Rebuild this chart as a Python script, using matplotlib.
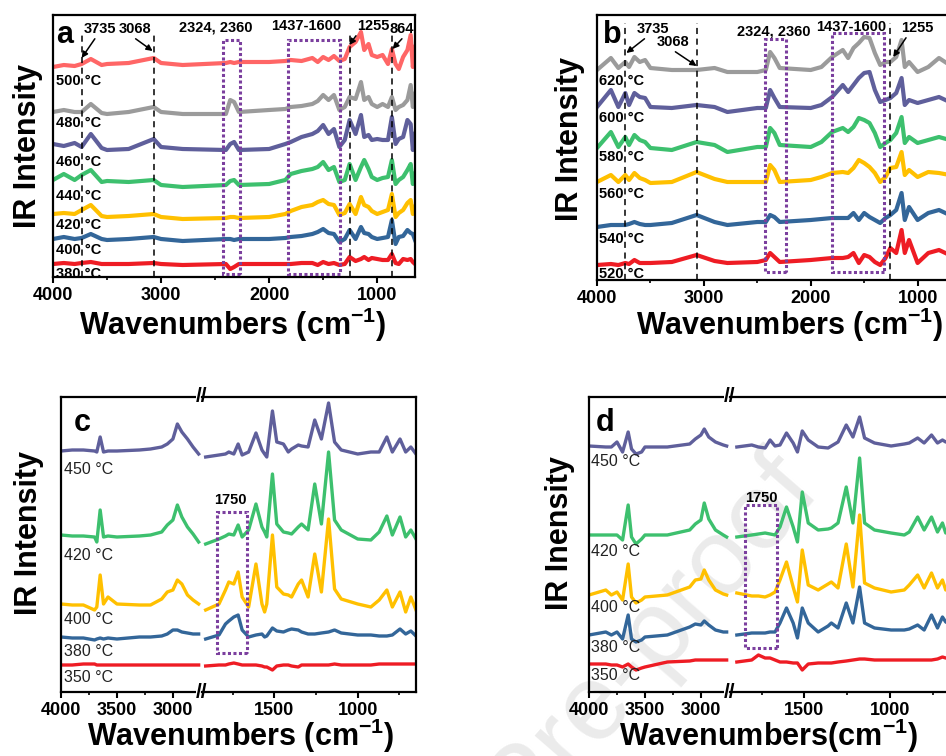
import matplotlib
matplotlib.use("Agg")
import matplotlib.pyplot as plt
from matplotlib.patches import Rectangle
from matplotlib.ticker import MultipleLocator

plt.rcParams['font.family'] = 'Liberation Sans'
plt.rcParams['font.weight'] = 'bold'
plt.rcParams['mathtext.fontset'] = 'custom'
plt.rcParams['mathtext.rm'] = 'Liberation Sans:bold'
plt.rcParams['mathtext.bf'] = 'Liberation Sans:bold'

# ---------------- data (stacked intensities) ----------------
# panel a
wn_a = [4000, 3900, 3800, 3735, 3650, 3550, 3500, 3300, 3068, 3000, 2800, 2400, 2360, 2324,
        2280, 2000, 1850, 1800, 1700, 1600, 1550, 1500, 1450, 1400, 1350, 1300, 1255, 1200,
        1150, 1120, 1080, 1050, 1000, 950, 900, 864, 830, 800, 760, 720, 690, 670, 650]
a_380 = [13, 14, 13, 14, 15, 13, 13, 13, 14, 13, 12, 13, 8, 10, 13, 13, 13, 13, 14, 14, 12, 15,
         13, 14, 12, 13, 20, 16, 18, 20, 17, 19, 18, 17, 17, 23, 14, 13, 18, 17, 18, 15, 13]
a_400 = [38, 40, 38, 39, 43, 38, 37, 38, 40, 38, 36, 38, 38, 37, 38, 38, 39, 40, 41, 43, 45, 48,
         44, 43, 35, 38, 47, 38, 50, 44, 43, 40, 38, 39, 40, 57, 33, 40, 41, 47, 44, 43, 37]
a_420 = [63, 64, 63, 67, 72, 61, 60, 61, 63, 60, 58, 59, 60, 60, 59, 60, 63, 66, 70, 72, 75, 77,
         73, 72, 62, 64, 73, 63, 80, 72, 70, 66, 63, 65, 67, 83, 60, 64, 67, 74, 77, 63, 70]
a_440 = [97, 103, 97, 102, 107, 95, 96, 95, 97, 92, 90, 92, 96, 97, 92, 93, 97, 103, 106, 108,
         110, 115, 107, 110, 95, 97, 113, 97, 110, 117, 108, 100, 97, 99, 100, 117, 93, 97, 100,
         107, 113, 93, 103]
a_460 = [133, 131, 134, 130, 143, 129, 127, 128, 138, 130, 128, 127, 133, 135, 127, 128, 133,
         135, 140, 143, 146, 152, 143, 148, 130, 137, 157, 143, 162, 140, 142, 137, 138, 137,
         137, 160, 133, 138, 140, 157, 153, 127, 143]
a_480 = [165, 167, 165, 165, 173, 164, 163, 165, 170, 165, 163, 163, 177, 175, 165, 167, 168,
         170, 171, 173, 176, 182, 177, 182, 167, 170, 180, 178, 195, 177, 180, 173, 170, 173,
         170, 180, 167, 170, 172, 177, 192, 170, 183]
a_500 = [210, 212, 211, 213, 218, 212, 213, 214, 219, 214, 212, 214, 215, 214, 215, 215, 216,
         217, 216, 219, 215, 220, 217, 221, 216, 218, 230, 235, 245, 227, 233, 222, 220, 222,
         213, 228, 213, 208, 220, 227, 242, 210, 230]
temps_a = ['380', '400', '420', '440', '460', '480', '500']
label_y_a = [3, 27, 52, 81, 115, 154, 196]

# panel b
wn_b = [4000, 3870, 3800, 3735, 3700, 3650, 3600, 3550, 3500, 3300, 3068, 2900, 2780, 2500,
        2420, 2380, 2340, 2290, 2000, 1900, 1800, 1700, 1650, 1600, 1550, 1500, 1450, 1400,
        1350, 1300, 1255, 1200, 1150, 1120, 1080, 1000, 900, 800, 700, 650]
b_520 = [15, 16, 15, 17, 16, 20, 17, 17, 17, 18, 25, 19, 17, 18, 20, 27, 23, 18, 20, 21, 22,
         22, 23, 27, 17, 25, 23, 18, 15, 22, 32, 27, 50, 27, 40, 17, 27, 30, 25, 24]
b_540 = [53, 55, 55, 55, 56, 58, 56, 55, 55, 57, 65, 58, 55, 58, 58, 65, 63, 58, 60, 61, 62,
         62, 62, 67, 60, 67, 63, 60, 57, 62, 65, 70, 87, 60, 73, 60, 67, 70, 65, 66]
b_560 = [98, 105, 98, 105, 100, 107, 102, 100, 97, 98, 108, 101, 98, 98, 98, 115, 110, 98, 100,
         103, 107, 108, 107, 112, 120, 117, 113, 107, 98, 103, 112, 113, 128, 105, 110, 103,
         108, 107, 105, 107]
b_580 = [132, 148, 133, 143, 135, 145, 140, 138, 132, 130, 138, 135, 128, 133, 133, 152, 147,
         135, 133, 138, 148, 152, 148, 153, 162, 160, 157, 147, 133, 137, 140, 147, 163, 137,
         143, 137, 140, 143, 140, 142]
b_600 = [173, 190, 173, 187, 175, 187, 183, 182, 173, 172, 175, 173, 168, 172, 172, 190, 182,
         173, 172, 175, 183, 195, 188, 195, 202, 207, 208, 190, 178, 180, 182, 187, 202, 175,
         180, 177, 180, 183, 178, 180]
b_620 = [210, 222, 212, 218, 213, 223, 218, 220, 212, 210, 210, 212, 208, 208, 210, 228, 222,
         212, 210, 213, 223, 230, 222, 232, 237, 243, 242, 227, 215, 218, 218, 223, 240, 213,
         218, 208, 213, 222, 215, 218]
temps_b = ['520', '540', '560', '580', '600', '620']
label_y_b = [6, 41, 86, 123, 162, 199]

# panel c (broken axis: 4000-2770 and 1913-650)
wn_cl = [4000, 3900, 3800, 3700, 3680, 3650, 3620, 3580, 3500, 3300, 3200, 3100, 3050, 3000,
         2960, 2920, 2870, 2820, 2770]
cl_350 = [27, 27, 28, 28, 27, 27, 27, 27, 27, 27, 27, 27, 27, 27, 27, 27, 27, 27, 27]
cl_380 = [55, 54, 54, 52, 53, 54, 53, 54, 53, 55, 55, 56, 58, 62, 62, 60, 59, 58, 58]
cl_400 = [88, 87, 87, 82, 85, 117, 88, 95, 88, 87, 87, 93, 100, 102, 112, 108, 97, 92, 88]
cl_420 = [157, 156, 156, 155, 150, 182, 155, 156, 155, 156, 157, 160, 167, 172, 187, 175, 165,
          158, 150]
cl_450 = [241, 242, 242, 241, 240, 255, 240, 241, 241, 242, 243, 245, 248, 253, 268, 260, 253,
          245, 238]
wn_cr = [1913, 1833, 1794, 1774, 1744, 1718, 1694, 1655, 1611, 1575, 1559, 1546, 1512, 1486,
         1446, 1417, 1397, 1357, 1337, 1298, 1258, 1218, 1175, 1139, 1099, 1000, 921, 871, 825,
         792, 746, 712, 681, 650]
cr_350 = [26, 27, 27, 28, 29, 28, 27, 27, 27, 26, 25, 25, 22, 26, 27, 27, 26, 25, 27, 27, 27,
          27, 27, 28, 27, 27, 27, 28, 28, 28, 28, 28, 28, 28]
cr_380 = [53, 57, 68, 71, 75, 77, 62, 55, 57, 58, 55, 56, 64, 61, 60, 62, 63, 62, 60, 58, 58,
          59, 60, 62, 59, 57, 57, 56, 56, 57, 63, 58, 61, 56]
cr_400 = [82, 88, 102, 110, 108, 120, 95, 85, 128, 88, 80, 88, 157, 105, 98, 97, 95, 108, 112,
          95, 138, 100, 173, 103, 93, 88, 85, 92, 102, 85, 100, 80, 95, 82]
cr_420 = [148, 153, 156, 158, 157, 167, 155, 162, 188, 165, 160, 155, 218, 168, 160, 159, 158,
          165, 168, 162, 208, 168, 240, 172, 162, 153, 152, 160, 176, 157, 175, 155, 162, 153]
cr_450 = [235, 237, 238, 240, 238, 248, 237, 240, 259, 242, 238, 235, 281, 250, 248, 240, 243,
          247, 246, 245, 272, 253, 289, 250, 242, 238, 240, 240, 255, 240, 253, 240, 245, 238]
temps_c = ['350', '380', '400', '420', '450']
label_y_c = [14, 40, 72, 136, 222]

# panel d
wn_dl = [4000, 3850, 3800, 3750, 3700, 3650, 3620, 3580, 3530, 3500, 3300, 3100, 3050, 3000,
         2970, 2930, 2870, 2800, 2770]
dl_350 = [28, 28, 27, 27, 25, 28, 25, 22, 24, 25, 30, 31, 32, 32, 32, 32, 32, 32, 32]
dl_380 = [57, 60, 57, 60, 53, 77, 53, 50, 52, 55, 57, 65, 68, 67, 71, 67, 62, 60, 60]
dl_400 = [97, 102, 97, 100, 92, 128, 95, 89, 92, 95, 97, 105, 112, 113, 122, 112, 102, 98, 97]
dl_420 = [157, 157, 157, 157, 152, 187, 155, 148, 153, 157, 157, 162, 168, 172, 189, 173, 162,
          157, 155]
dl_450 = [246, 245, 245, 250, 240, 260, 243, 238, 240, 245, 245, 248, 253, 257, 263, 255, 250,
          247, 246]
wn_dr = [1895, 1808, 1769, 1730, 1701, 1672, 1643, 1605, 1566, 1541, 1513, 1478, 1420, 1362,
         1343, 1304, 1256, 1217, 1178, 1149, 1091, 994, 917, 888, 839, 801, 758, 723, 694, 675,
         650]
dr_350 = [30, 32, 37, 34, 34, 32, 30, 30, 29, 29, 22, 28, 29, 29, 29, 30, 31, 32, 33, 33, 32,
          32, 32, 32, 32, 32, 32, 33, 35, 34, 34]
dr_380 = [57, 59, 59, 59, 60, 60, 69, 84, 69, 54, 84, 69, 60, 66, 69, 64, 89, 69, 105, 69, 64,
          62, 62, 63, 67, 62, 77, 64, 75, 70, 68]
dr_400 = [99, 96, 96, 95, 97, 100, 112, 130, 105, 90, 142, 107, 102, 108, 110, 104, 148, 105,
          177, 109, 104, 100, 102, 107, 117, 104, 119, 104, 112, 102, 105]
dr_420 = [155, 157, 158, 159, 158, 157, 165, 185, 165, 150, 200, 169, 162, 163, 164, 169, 205,
          169, 234, 169, 162, 159, 157, 160, 175, 162, 175, 160, 169, 159, 162]
dr_450 = [245, 247, 245, 244, 252, 246, 247, 259, 249, 240, 261, 252, 245, 244, 246, 250, 267,
          255, 275, 254, 249, 246, 248, 249, 254, 249, 257, 249, 252, 250, 251]
temps_d = ['350', '380', '400', '420', '450']
label_y_d = [17, 45, 84, 141, 231]

RED, PINK, GRAY = '#ee1c24', '#ff6666', '#9b9b9b'
PURPLE, GREEN, YELLOW, BLUE = '#5f5f9b', '#3dc06e', '#ffc000', '#336699'
BOXC = '#7b3f9e'

W, H = 946, 756
fig = plt.figure(figsize=(W / 100, H / 100), dpi=100)

# faint watermark behind panel d
fig.text(822 / W, 1 - 492 / H, 'Journal Pre-proof', fontsize=78, fontweight='normal',
         color='#ebebeb', rotation=49, ha='right', va='baseline', rotation_mode='anchor',
         zorder=-1)


def px_axes(l, t, r, b):
    a = fig.add_axes([l / W, 1 - b / H, (r - l) / W, (b - t) / H])
    a.patch.set_alpha(0)
    return a


def style(ax, major, minor):
    for s in ax.spines.values():
        s.set_linewidth(1.6)
    ax.set_yticks([])
    ax.set_xticks(major)
    ax.xaxis.set_minor_locator(MultipleLocator(minor))
    ax.tick_params(axis='x', which='major', direction='out', length=4, width=1.5,
                   labelsize=13, pad=3)
    ax.tick_params(axis='x', which='minor', direction='out', length=2.5, width=1.2)


def box(ax, x0, x1, y0, y1):
    ax.add_patch(Rectangle((x1, y0), x0 - x1, y1 - y0, fill=False, ec=BOXC, lw=2.2,
                           ls=(0, (1, 0.8)), zorder=4))


def arrow(ax, txt, xy, xytext, rel):
    ax.annotate(txt, xy=xy, xytext=xytext, ha='center', va='center', fontsize=10.5,
                fontweight='bold',
                arrowprops=dict(arrowstyle='-|>', color='black', lw=1.1, mutation_scale=9,
                                relpos=rel, shrinkA=0, shrinkB=0))


# ---------------- panel a ----------------
ax = px_axes(53, 15, 415, 277)
for y, c in zip([a_380, a_400, a_420, a_440, a_460, a_480, a_500],
                [RED, BLUE, YELLOW, GREEN, PURPLE, GRAY, PINK]):
    ax.plot(wn_a, y, color=c, lw=3)
ax.set_xlim(4000, 650)
ax.set_ylim(0, 262)
style(ax, [4000, 3000, 2000, 1000], 500)
for x in [3735, 3068, 1255, 864]:
    ax.axvline(x, ymax=0.93, color='black', lw=1.1, ls=(0, (4, 3)), zorder=5)
box(ax, 2426, 2268, 3, 237)
box(ax, 1824, 1343, 3, 237)
for t, y in zip(temps_a, label_y_a):
    ax.text(3972, y, t + ' °C', fontsize=10.5, fontweight='bold', va='center', ha='left')
ax.text(3889, 242, 'a', fontsize=22, fontweight='bold', va='center', ha='center')
arrow(ax, '3735', (3735, 219), (3565, 248), (0.4, 0))
arrow(ax, '3068', (3078, 226), (3241, 248), (0.4, 0))
arrow(ax, '1255', (1258, 232), (1039, 251), (0.1, 0.2))
arrow(ax, '864', (858, 228), (770, 248), (0.6, 0))
ax.text(2492, 249, '2324, 2360', fontsize=10.5, fontweight='bold', ha='center', va='center')
ax.text(1659, 251, '1437-1600', fontsize=10.5, fontweight='bold', ha='center', va='center')

# ---------------- panel b ----------------
ax = px_axes(597, 15, 955, 280)
for y, c in zip([b_520, b_540, b_560, b_580, b_600, b_620],
                [RED, BLUE, YELLOW, GREEN, PURPLE, GRAY]):
    ax.plot(wn_b, y, color=c, lw=3)
ax.set_xlim(4000, 650)
ax.set_ylim(0, 265)
style(ax, [4000, 3000, 2000, 1000], 500)
for x in [3735, 3068, 1255]:
    ax.axvline(x, ymax=0.97, color='black', lw=1.1, ls=(0, (4, 3)), zorder=5)
box(ax, 2430, 2234, 8, 241)
box(ax, 1804, 1318, 8, 247)
for t, y in zip(temps_b, label_y_b):
    ax.text(3981, y, t + ' °C', fontsize=10.5, fontweight='bold', va='center', ha='left')
ax.text(3860, 245, 'b', fontsize=22, fontweight='bold', va='center', ha='center')
arrow(ax, '3735', (3725, 227), (3477, 251), (0.35, 0))
arrow(ax, '3068', (3068, 214), (3290, 238), (0.45, 0))
arrow(ax, '1255', (1228, 223), (1000, 252), (0.2, 0))
ax.text(2346, 249, '2324, 2360', fontsize=10.5, fontweight='bold', ha='center', va='center')
ax.text(1617, 253, '1437-1600', fontsize=10.5, fontweight='bold', ha='center', va='center')


# ---------------- panels c and d (broken x axis) ----------------
def broken(lpx, bpx, rpx, wl, left_sets, wr, right_sets, colors, temps, label_y, label_x,
           letter, letter_x, boxspec, label_box):
    axl = px_axes(lpx, 397, bpx, 692)
    axr = px_axes(bpx, 397, rpx, 692)
    for y, c in zip(left_sets, colors):
        axl.plot(wl, y, color=c, lw=2.4)
    for y, c in zip(right_sets, colors):
        axr.plot(wr, y, color=c, lw=2.4)
    axl.set_xlim(4000, 2740)
    axr.set_xlim(1935, 650)
    for a in (axl, axr):
        a.set_ylim(0, 295)
    style(axl, [4000, 3500, 3000], 250)
    style(axr, [1500, 1000], 250)
    axl.spines['right'].set_visible(False)
    axr.spines['left'].set_visible(False)
    for yy in (0, 1):
        axl.text(1.0, yy, '//', transform=axl.transAxes, ha='center', va='center',
                 fontsize=15, fontweight='bold', zorder=10,
                 bbox=dict(fc='white', ec='none', pad=0.3))
    for t, y in zip(temps, label_y):
        axl.text(label_x, y, t + ' °C', fontsize=11.5, fontweight='normal', va='center',
                 ha='left', color='#222222')
    axl.text(letter_x, 269, letter, fontsize=22, fontweight='bold', va='center', ha='center')
    box(axr, *boxspec)
    axr.text(label_box[0], label_box[1], '1750', fontsize=10.5, fontweight='bold',
             ha='center', va='center')


broken(61, 202, 416, wn_cl, [cl_350, cl_380, cl_400, cl_420, cl_450],
       wn_cr, [cr_350, cr_380, cr_400, cr_420, cr_450],
       [RED, BLUE, YELLOW, GREEN, PURPLE], temps_c, label_y_c, 3975, 'c', 3812,
       (1843, 1665, 39, 180), (1764, 192))
broken(589, 730, 950, wn_dl, [dl_350, dl_380, dl_400, dl_420, dl_450],
       wn_dr, [dr_350, dr_380, dr_400, dr_420, dr_450],
       [RED, BLUE, YELLOW, GREEN, PURPLE], temps_d, label_y_d, 3985, 'd', 3857,
       (1847, 1663, 44, 187), (1750, 194))

# ---------------- axis titles ----------------
xl = r'Wavenumbers (cm$^{\mathbf{-1}}$)'
for x, y, s in [(233, 325, xl), (790, 325, xl), (241, 736, xl),
                (768, 736, r'Wavenumbers(cm$^{\mathbf{-1}}$)')]:
    fig.text(x / W, 1 - y / H, s, fontsize=22, fontweight='bold', ha='center', va='center')
for x, y, s in [(28, 146, 'IR Intensity'), (570, 139, 'IR Intensity'),
                (29, 533, 'IR Intensity'), (560, 533, 'IR Inensity')]:
    fig.text(x / W, 1 - y / H, s, fontsize=22, fontweight='bold', ha='center', va='center',
             rotation=90)

fig.savefig('out.png', dpi=100)
